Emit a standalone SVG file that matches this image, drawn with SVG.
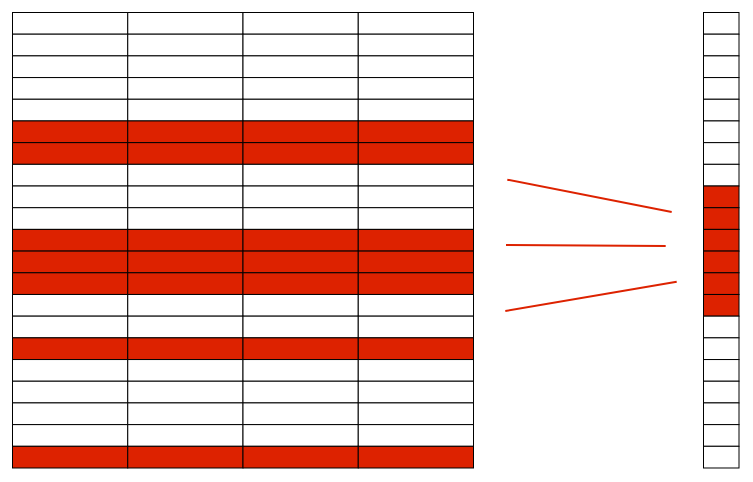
<svg xmlns="http://www.w3.org/2000/svg" width="753" height="482" viewBox="0 0 753 482">
<style>
.c{fill:#ffffff;stroke:#000000;stroke-width:1}
.r{fill:#dd2200;stroke:#000000;stroke-width:1}
.ln{stroke:#dd2200;stroke-width:2;fill:none}
</style>
<rect width="753" height="482" fill="#ffffff"/>
<g id="table">
<g id="row0"><rect class="c" x="12.5" y="12.5" width="115.25" height="21.69"/><rect class="c" x="127.75" y="12.5" width="115.25" height="21.69"/><rect class="c" x="243" y="12.5" width="115.25" height="21.69"/><rect class="c" x="358.25" y="12.5" width="115.25" height="21.69"/></g>
<g id="row1"><rect class="c" x="12.5" y="34.19" width="115.25" height="21.69"/><rect class="c" x="127.75" y="34.19" width="115.25" height="21.69"/><rect class="c" x="243" y="34.19" width="115.25" height="21.69"/><rect class="c" x="358.25" y="34.19" width="115.25" height="21.69"/></g>
<g id="row2"><rect class="c" x="12.5" y="55.88" width="115.25" height="21.69"/><rect class="c" x="127.75" y="55.88" width="115.25" height="21.69"/><rect class="c" x="243" y="55.88" width="115.25" height="21.69"/><rect class="c" x="358.25" y="55.88" width="115.25" height="21.69"/></g>
<g id="row3"><rect class="c" x="12.5" y="77.57" width="115.25" height="21.69"/><rect class="c" x="127.75" y="77.57" width="115.25" height="21.69"/><rect class="c" x="243" y="77.57" width="115.25" height="21.69"/><rect class="c" x="358.25" y="77.57" width="115.25" height="21.69"/></g>
<g id="row4"><rect class="c" x="12.5" y="99.26" width="115.25" height="21.69"/><rect class="c" x="127.75" y="99.26" width="115.25" height="21.69"/><rect class="c" x="243" y="99.26" width="115.25" height="21.69"/><rect class="c" x="358.25" y="99.26" width="115.25" height="21.69"/></g>
<g id="row5"><rect class="r" x="12.5" y="120.95" width="115.25" height="21.69"/><rect class="r" x="127.75" y="120.95" width="115.25" height="21.69"/><rect class="r" x="243" y="120.95" width="115.25" height="21.69"/><rect class="r" x="358.25" y="120.95" width="115.25" height="21.69"/></g>
<g id="row6"><rect class="r" x="12.5" y="142.64" width="115.25" height="21.69"/><rect class="r" x="127.75" y="142.64" width="115.25" height="21.69"/><rect class="r" x="243" y="142.64" width="115.25" height="21.69"/><rect class="r" x="358.25" y="142.64" width="115.25" height="21.69"/></g>
<g id="row7"><rect class="c" x="12.5" y="164.33" width="115.25" height="21.69"/><rect class="c" x="127.75" y="164.33" width="115.25" height="21.69"/><rect class="c" x="243" y="164.33" width="115.25" height="21.69"/><rect class="c" x="358.25" y="164.33" width="115.25" height="21.69"/></g>
<g id="row8"><rect class="c" x="12.5" y="186.02" width="115.25" height="21.69"/><rect class="c" x="127.75" y="186.02" width="115.25" height="21.69"/><rect class="c" x="243" y="186.02" width="115.25" height="21.69"/><rect class="c" x="358.25" y="186.02" width="115.25" height="21.69"/></g>
<g id="row9"><rect class="c" x="12.5" y="207.71" width="115.25" height="21.69"/><rect class="c" x="127.75" y="207.71" width="115.25" height="21.69"/><rect class="c" x="243" y="207.71" width="115.25" height="21.69"/><rect class="c" x="358.25" y="207.71" width="115.25" height="21.69"/></g>
<g id="row10"><rect class="r" x="12.5" y="229.4" width="115.25" height="21.69"/><rect class="r" x="127.75" y="229.4" width="115.25" height="21.69"/><rect class="r" x="243" y="229.4" width="115.25" height="21.69"/><rect class="r" x="358.25" y="229.4" width="115.25" height="21.69"/></g>
<g id="row11"><rect class="r" x="12.5" y="251.09" width="115.25" height="21.69"/><rect class="r" x="127.75" y="251.09" width="115.25" height="21.69"/><rect class="r" x="243" y="251.09" width="115.25" height="21.69"/><rect class="r" x="358.25" y="251.09" width="115.25" height="21.69"/></g>
<g id="row12"><rect class="r" x="12.5" y="272.78" width="115.25" height="21.69"/><rect class="r" x="127.75" y="272.78" width="115.25" height="21.69"/><rect class="r" x="243" y="272.78" width="115.25" height="21.69"/><rect class="r" x="358.25" y="272.78" width="115.25" height="21.69"/></g>
<g id="row13"><rect class="c" x="12.5" y="294.47" width="115.25" height="21.69"/><rect class="c" x="127.75" y="294.47" width="115.25" height="21.69"/><rect class="c" x="243" y="294.47" width="115.25" height="21.69"/><rect class="c" x="358.25" y="294.47" width="115.25" height="21.69"/></g>
<g id="row14"><rect class="c" x="12.5" y="316.16" width="115.25" height="21.69"/><rect class="c" x="127.75" y="316.16" width="115.25" height="21.69"/><rect class="c" x="243" y="316.16" width="115.25" height="21.69"/><rect class="c" x="358.25" y="316.16" width="115.25" height="21.69"/></g>
<g id="row15"><rect class="r" x="12.5" y="337.85" width="115.25" height="21.69"/><rect class="r" x="127.75" y="337.85" width="115.25" height="21.69"/><rect class="r" x="243" y="337.85" width="115.25" height="21.69"/><rect class="r" x="358.25" y="337.85" width="115.25" height="21.69"/></g>
<g id="row16"><rect class="c" x="12.5" y="359.54" width="115.25" height="21.69"/><rect class="c" x="127.75" y="359.54" width="115.25" height="21.69"/><rect class="c" x="243" y="359.54" width="115.25" height="21.69"/><rect class="c" x="358.25" y="359.54" width="115.25" height="21.69"/></g>
<g id="row17"><rect class="c" x="12.5" y="381.23" width="115.25" height="21.69"/><rect class="c" x="127.75" y="381.23" width="115.25" height="21.69"/><rect class="c" x="243" y="381.23" width="115.25" height="21.69"/><rect class="c" x="358.25" y="381.23" width="115.25" height="21.69"/></g>
<g id="row18"><rect class="c" x="12.5" y="402.92" width="115.25" height="21.69"/><rect class="c" x="127.75" y="402.92" width="115.25" height="21.69"/><rect class="c" x="243" y="402.92" width="115.25" height="21.69"/><rect class="c" x="358.25" y="402.92" width="115.25" height="21.69"/></g>
<g id="row19"><rect class="c" x="12.5" y="424.61" width="115.25" height="21.69"/><rect class="c" x="127.75" y="424.61" width="115.25" height="21.69"/><rect class="c" x="243" y="424.61" width="115.25" height="21.69"/><rect class="c" x="358.25" y="424.61" width="115.25" height="21.69"/></g>
<g id="row20"><rect class="r" x="12.5" y="446.3" width="115.25" height="21.69"/><rect class="r" x="127.75" y="446.3" width="115.25" height="21.69"/><rect class="r" x="243" y="446.3" width="115.25" height="21.69"/><rect class="r" x="358.25" y="446.3" width="115.25" height="21.69"/></g>
</g>
<g id="column">
<rect class="c" x="703.5" y="12.5" width="35.5" height="21.69"/>
<rect class="c" x="703.5" y="34.19" width="35.5" height="21.69"/>
<rect class="c" x="703.5" y="55.88" width="35.5" height="21.69"/>
<rect class="c" x="703.5" y="77.57" width="35.5" height="21.69"/>
<rect class="c" x="703.5" y="99.26" width="35.5" height="21.69"/>
<rect class="c" x="703.5" y="120.95" width="35.5" height="21.69"/>
<rect class="c" x="703.5" y="142.64" width="35.5" height="21.69"/>
<rect class="c" x="703.5" y="164.33" width="35.5" height="21.69"/>
<rect class="r" x="703.5" y="186.02" width="35.5" height="21.69"/>
<rect class="r" x="703.5" y="207.71" width="35.5" height="21.69"/>
<rect class="r" x="703.5" y="229.4" width="35.5" height="21.69"/>
<rect class="r" x="703.5" y="251.09" width="35.5" height="21.69"/>
<rect class="r" x="703.5" y="272.78" width="35.5" height="21.69"/>
<rect class="r" x="703.5" y="294.47" width="35.5" height="21.69"/>
<rect class="c" x="703.5" y="316.16" width="35.5" height="21.69"/>
<rect class="c" x="703.5" y="337.85" width="35.5" height="21.69"/>
<rect class="c" x="703.5" y="359.54" width="35.5" height="21.69"/>
<rect class="c" x="703.5" y="381.23" width="35.5" height="21.69"/>
<rect class="c" x="703.5" y="402.92" width="35.5" height="21.69"/>
<rect class="c" x="703.5" y="424.61" width="35.5" height="21.69"/>
<rect class="c" x="703.5" y="446.3" width="35.5" height="21.69"/>
</g>
<g id="connectors">
<line class="ln" x1="507.3" y1="179.7" x2="671.7" y2="212"/>
<line class="ln" x1="506" y1="245" x2="665.7" y2="246"/>
<line class="ln" x1="505.3" y1="311" x2="676.7" y2="281.7"/>
</g>
</svg>
